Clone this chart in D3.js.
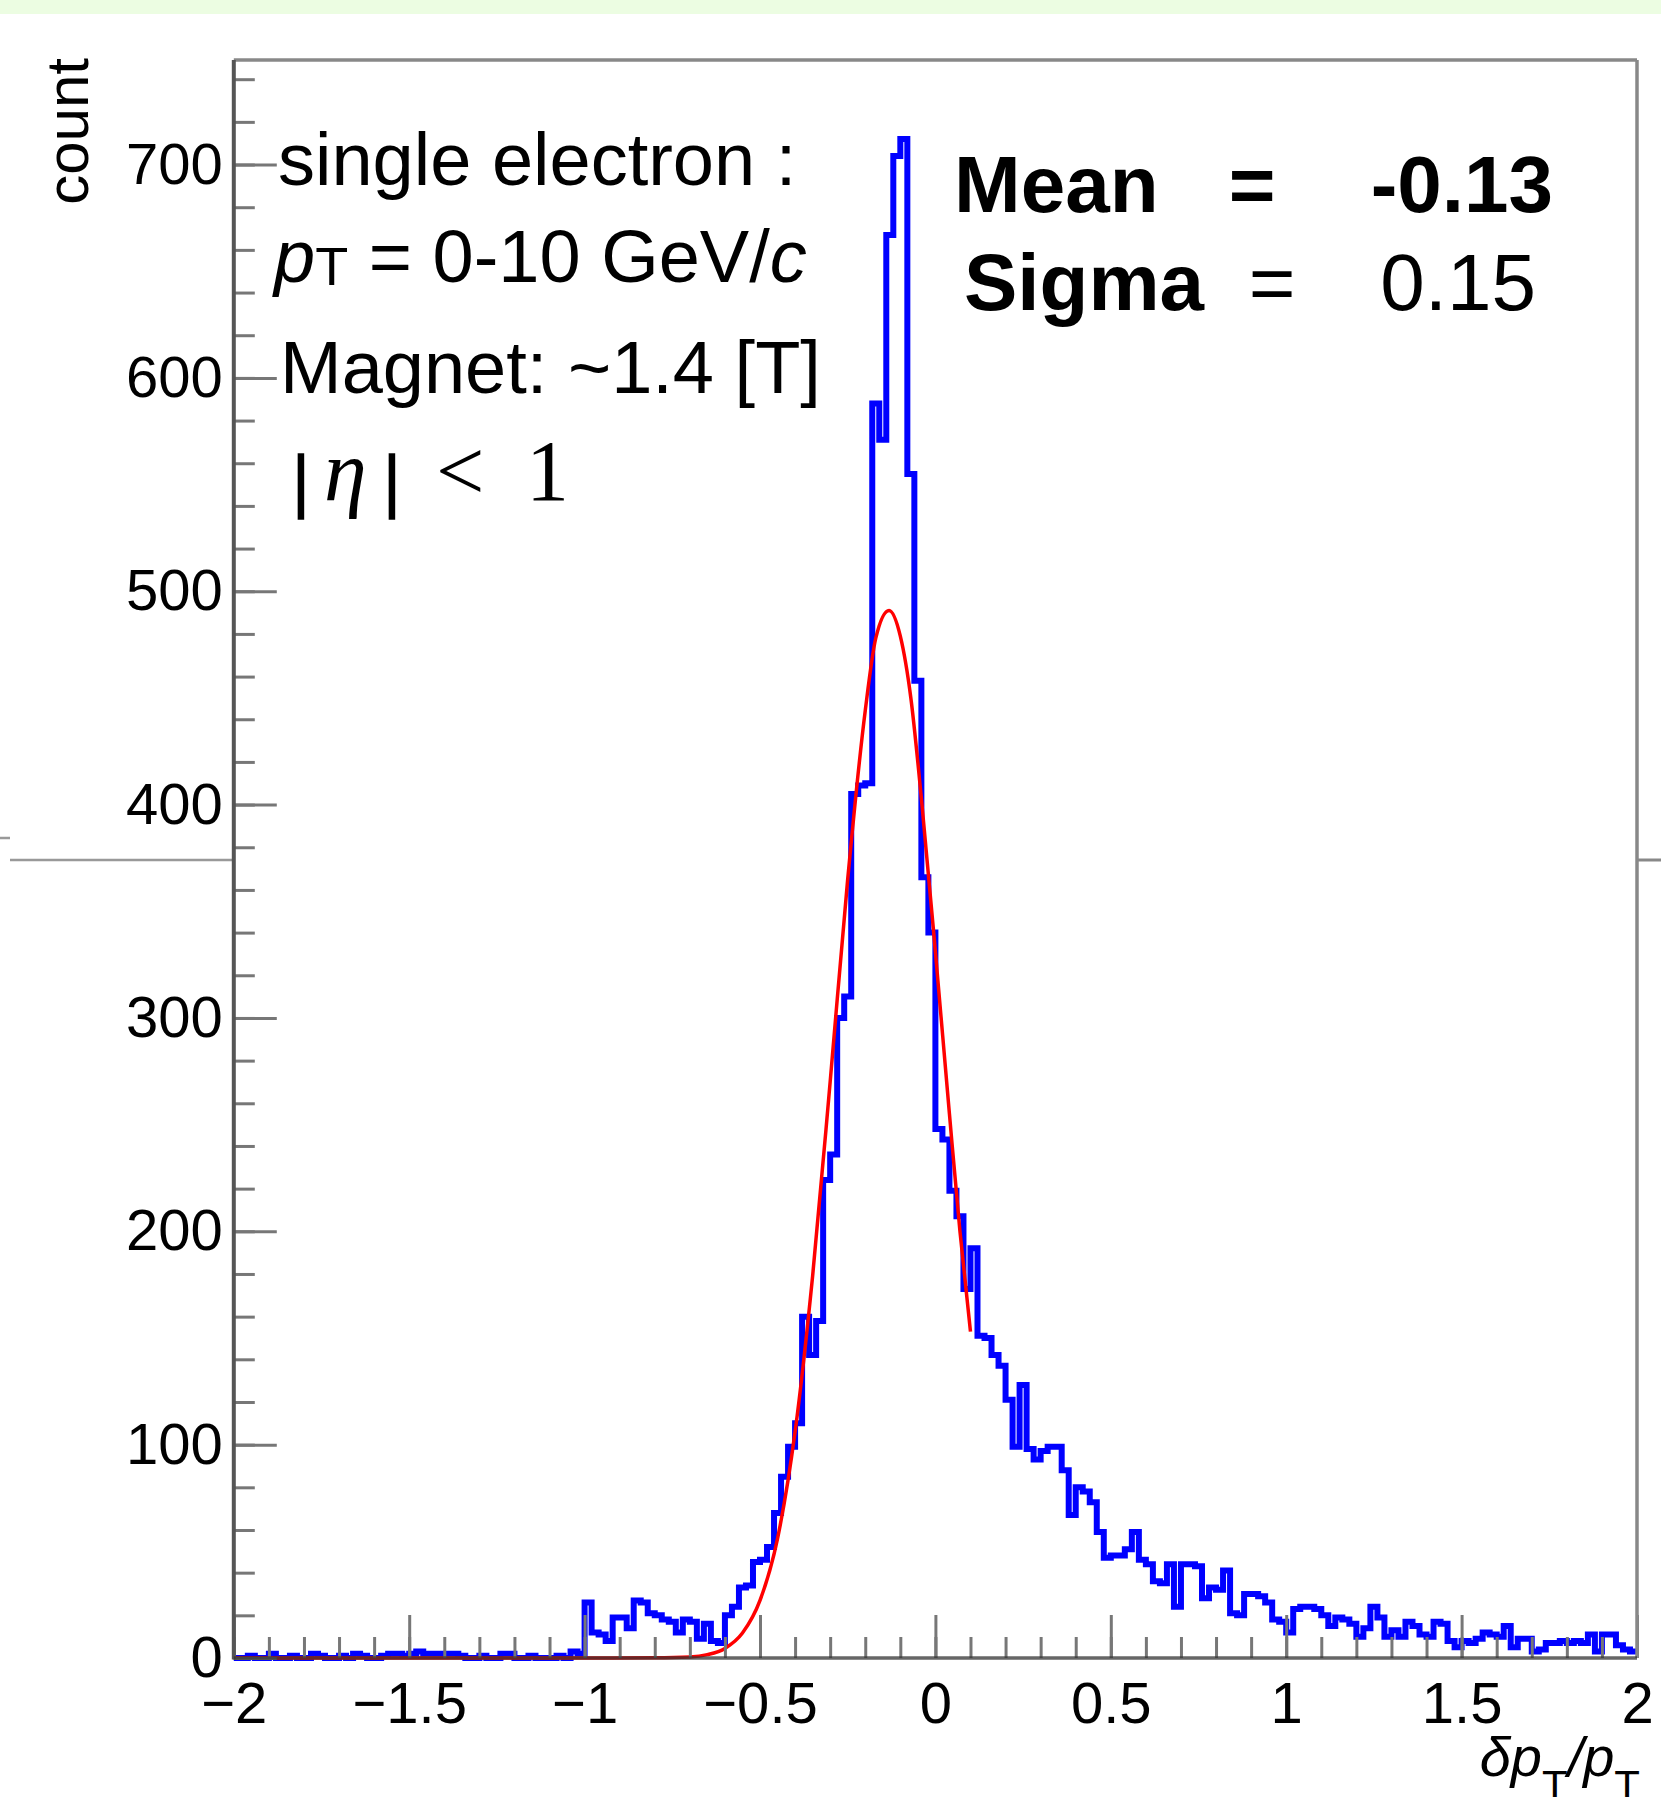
<!DOCTYPE html>
<html>
<head>
<meta charset="utf-8">
<script src="https://cdn.jsdelivr.net/npm/d3@7"></script>
<style>
  body { margin: 0; background: #fff; }
  text { font-family: "Liberation Sans", Arial, Helvetica, sans-serif; fill: #000; }
</style>
</head>
<body>
<div id="chart"></div>
<script>

// histogram range and bin contents (200 bins of 0.02)
var xRange = [-2, 2];
var yRange = [0, 749];

var counts = [
  0, 0, 1, 0, 0, 2, 0, 0, 1, 0,   0, 2, 1, 0, 0, 1, 0, 2, 1, 0,
  0, 1, 2, 2, 1, 2, 3, 2, 2, 2,   2, 2, 1, 0, 0, 1, 0, 0, 2, 2,
  0, 0, 1, 0, 0, 0, 1, 0, 3, 2,
  26, 12, 11, 8, 19, 19, 14, 27, 26, 21,   20, 18, 17, 12, 18, 17, 9, 16, 8, 7,
  20, 24, 33, 34, 45, 46, 52, 68, 85, 99,
  110, 160, 142, 158, 224, 236, 300, 310, 405, 409,
  410, 588, 571, 667, 704, 712, 555, 458, 366, 340,
  248, 243, 219, 207, 173, 192, 151, 150, 142, 137,
  121, 99, 128, 98, 93, 97, 99, 99, 88, 67,
  80, 78, 73, 59, 47, 48, 48, 51, 59, 46,
  44, 36, 35, 44, 24, 44, 44, 43, 28, 33,
  32, 41, 21, 20, 30, 30, 29, 26, 18, 17,
  12, 23, 24, 24, 23, 20, 15, 19, 18, 16,
  10, 14, 24, 19, 10, 13, 10, 17, 15, 11,
  10, 17, 16, 8, 5, 8, 7, 9, 12, 11,
  10, 15, 5, 9, 9, 3, 4, 7, 7, 8,
  7, 8, 7, 11, 3, 11, 11, 6, 4, 3
];

// gaussian fit curve
var fitX = [-2, -1, -0.8, -0.7, -0.65, -0.6, -0.55, -0.5, -0.45, -0.4, -0.35, -0.3,
            -0.25, -0.2, -0.17, -0.132, -0.1, -0.07, -0.04, 0, 0.04, 0.07, 0.1];
var fitY = [0, 0, 0.1, 0.5, 1.6, 4.5, 11.7, 27, 56, 106, 179, 270,
            365, 444, 478, 491, 479, 450, 403, 331, 255, 200, 153];

var yMajor = [0, 100, 200, 300, 400, 500, 600, 700];
var yMinor = d3.range(0, 749, 20);
var xMajor = [-2, -1.5, -1, -0.5, 0, 0.5, 1, 1.5, 2];
var xMinor = d3.range(-20, 21).map(function(d) { return d / 10; });

var W = 1661, H = 1797;
var padL = 233.8, padR = 1637, padT = 60, padB = 1658;

var svg = d3.select('#chart')
    .append('svg')
        .attr('width', W)
        .attr('height', H)
        .style('display', 'block')
        .style('background', '#fff');

// light green strip at the very top
svg.append('rect')
    .attr('x', 0).attr('y', 0)
    .attr('width', W).attr('height', 14)
    .style('fill', '#ecfde2');

// stray pad lines crossing the margins
svg.append('line')
    .attr('x1', 10).attr('x2', padL).attr('y1', 860).attr('y2', 860)
    .attr('stroke', '#999').style('stroke-width', 2.5);
svg.append('line')
    .attr('x1', 0).attr('x2', 10).attr('y1', 838).attr('y2', 838)
    .attr('stroke', '#999').style('stroke-width', 2.5);
svg.append('line')
    .attr('x1', padR).attr('x2', W).attr('y1', 860).attr('y2', 860)
    .attr('stroke', '#888').style('stroke-width', 3);

var x = d3.scaleLinear().domain(xRange).range([padL, padR]);
var y = d3.scaleLinear().domain(yRange).range([padB, padT]);

// histogram outline
var binW = (xRange[1] - xRange[0]) / counts.length;
var steps = counts.map(function(c, i) { return [xRange[0] + i * binW, c]; });
steps.unshift([xRange[0], 0]);
steps.push([xRange[1], counts[counts.length - 1]]);

var histLine = d3.line()
    .x(function(d) { return x(d[0]); })
    .y(function(d) { return y(d[1]); })
    .curve(d3.curveStepAfter);

svg.append('path')
    .datum(steps)
    .attr('d', histLine)
    .attr('fill', 'none')
    .attr('stroke', '#0000ff')
    .style('stroke-width', 6)
    .style('stroke-linejoin', 'miter');

// fit
var fitLine = d3.line()
    .x(function(d) { return x(d[0]); })
    .y(function(d) { return y(d[1]); })
    .curve(d3.curveMonotoneX);

svg.append('path')
    .datum(fitX.map(function(d, i) { return [d, fitY[i]]; }))
    .attr('d', fitLine)
    .attr('fill', 'none')
    .attr('stroke', '#ff0000')
    .style('stroke-width', 3.5);

// axes
var yAxisMinor = d3.axisLeft(y).tickValues(yMinor).tickSize(-21).tickFormat('');
var yAxis = d3.axisLeft(y).tickValues(yMajor).tickSize(-43).tickPadding(11)
    .tickFormat(d3.format('d'));
var xAxisMinor = d3.axisBottom(x).tickValues(xMinor).tickSize(-21).tickFormat('');
var xAxis = d3.axisBottom(x).tickValues(xMajor).tickSize(-43).tickPadding(24)
    .tickFormat(d3.format('~g'));

function styleAxis(g) {
    g.select('.domain').remove();
    g.selectAll('.tick line').attr('stroke', '#777').style('stroke-width', 3);
    g.selectAll('.tick text')
        .attr('fill', '#000')
        .style('font-family', '"Liberation Sans", Arial, sans-serif')
        .style('font-size', '58px');
}

svg.append('g').attr('transform', 'translate(' + padL + ',0)').call(yAxisMinor).call(styleAxis);
svg.append('g').attr('transform', 'translate(' + padL + ',0)').call(yAxis).call(styleAxis);
svg.append('g').attr('transform', 'translate(0,' + padB + ')').call(xAxisMinor).call(styleAxis);
svg.append('g').attr('transform', 'translate(0,' + padB + ')').call(xAxis).call(styleAxis);

// frame
svg.append('line').attr('x1', padL).attr('x2', padR).attr('y1', padT).attr('y2', padT)
    .attr('stroke', '#888').style('stroke-width', 3.5);
svg.append('line').attr('x1', padR).attr('x2', padR).attr('y1', padT).attr('y2', padB)
    .attr('stroke', '#888').style('stroke-width', 3.5);
svg.append('line').attr('x1', padL).attr('x2', padL).attr('y1', padT).attr('y2', padB + 1.5)
    .attr('stroke', '#555').style('stroke-width', 4);
svg.append('line').attr('x1', padL).attr('x2', padR).attr('y1', padB).attr('y2', padB)
    .attr('stroke', '#333').style('stroke-width', 3.5).style('opacity', 0.75);

// axis titles
svg.append('text')
    .attr('transform', 'translate(88,58) rotate(-90)')
    .attr('text-anchor', 'end')
    .style('font-size', '60px')
    .text('count');

var xt = svg.append('text')
    .attr('x', 1640).attr('y', 1776)
    .attr('text-anchor', 'end')
    .style('font-size', '56px');
xt.append('tspan').style('font-style', 'italic').text('δp');
xt.append('tspan').attr('dy', 24).style('font-size', '42px').text('T');
xt.append('tspan').attr('dy', -24).style('font-style', 'italic').text('/p');
xt.append('tspan').attr('dy', 24).style('font-size', '42px').text('T');

// text on the left
svg.append('text').attr('x', 278).attr('y', 185).style('font-size', '74px')
    .text('single electron :');

var pt = svg.append('text').attr('x', 274).attr('y', 282).style('font-size', '74px');
pt.append('tspan').style('font-style', 'italic').text('p');
pt.append('tspan').attr('dy', 3).style('font-size', '54px').text('T');
pt.append('tspan').attr('dy', -3).text(' = 0-10 GeV/');
pt.append('tspan').style('font-style', 'italic').text('c');

svg.append('text').attr('x', 280).attr('y', 393).style('font-size', '74px')
    .text('Magnet: ~1.4 [T]');

var serif = '"Liberation Serif", "Times New Roman", serif';
svg.append('text').attr('x', 293).attr('y', 504).style('font-family', serif)
    .style('font-size', '72px').style('font-weight', 'bold')
    .attr('stroke', '#000').style('stroke-width', 1.5).text('|');
svg.append('text').attr('x', 324).attr('y', 500).style('font-family', serif)
    .style('font-style', 'italic').style('font-size', '86px').text('η');
svg.append('text').attr('x', 384).attr('y', 504).style('font-family', serif)
    .style('font-size', '72px').style('font-weight', 'bold')
    .attr('stroke', '#000').style('stroke-width', 1.5).text('|');
svg.append('text').attr('x', 436).attr('y', 500).style('font-family', serif)
    .style('font-size', '86px').text('<');
svg.append('text').attr('x', 526).attr('y', 500).style('font-family', serif)
    .style('font-size', '86px').text('1');

// fit results
svg.append('text').attr('x', 954).attr('y', 212).style('font-size', '80px')
    .style('font-weight', 'bold').text('Mean');
svg.append('text').attr('x', 1252).attr('y', 212).attr('text-anchor', 'middle')
    .style('font-size', '80px').style('font-weight', 'bold').text('=');
svg.append('text').attr('x', 1553).attr('y', 212).attr('text-anchor', 'end')
    .style('font-size', '80px').style('font-weight', 'bold').text('-0.13');

svg.append('text').attr('x', 964).attr('y', 310).style('font-size', '80px')
    .style('font-weight', 'bold').text('Sigma');
svg.append('text').attr('x', 1272).attr('y', 310).attr('text-anchor', 'middle')
    .style('font-size', '80px').text('=');
svg.append('text').attr('x', 1536).attr('y', 310).attr('text-anchor', 'end')
    .style('font-size', '80px').text('0.15');

console.log('bins', counts.length);
</script>
</body>
</html>
